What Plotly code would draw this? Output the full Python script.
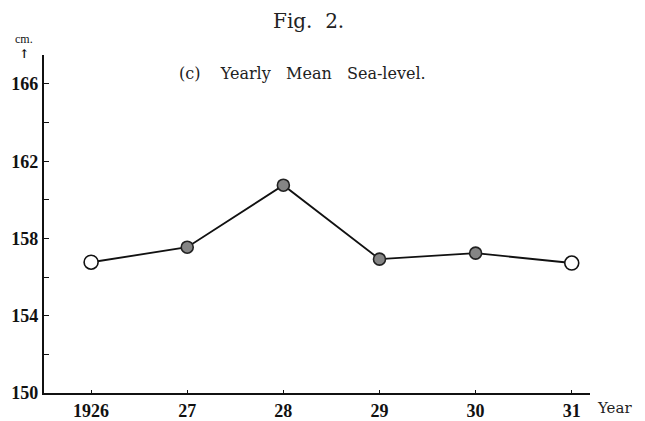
import plotly.graph_objects as go

years = [1926, 1927, 1928, 1929, 1930, 1931]
year_labels = ["1926", "27", "28", "29", "30", "31"]
sea_level = [156.77, 157.55, 160.76, 156.93, 157.24, 156.73]
filled = [False, True, True, True, True, False]
y_ticks = [150, 154, 158, 162, 166]

serif = "Liberation Serif, Times New Roman, serif"
wide_serif = "DejaVu Serif, serif"

fig = go.Figure()
fig.add_trace(go.Scatter(
    x=years, y=sea_level, mode="lines",
    line=dict(color="#111", width=1.8), showlegend=False, hoverinfo="skip"))

fx = [x for x, f in zip(years, filled) if f]
fy = [y for y, f in zip(sea_level, filled) if f]
ox = [x for x, f in zip(years, filled) if not f]
oy = [y for y, f in zip(sea_level, filled) if not f]

fig.add_trace(go.Scatter(
    x=fx, y=fy, mode="markers", showlegend=False,
    marker=dict(size=12, color="#858585", line=dict(color="#222", width=1.6))))
fig.add_trace(go.Scatter(
    x=ox, y=oy, mode="markers", showlegend=False,
    marker=dict(size=14, color="white", line=dict(color="#111", width=1.6))))

# page body adds an 8px offset, margins compensate for it
fig.update_layout(
    width=645, height=421,
    margin=dict(l=36, r=63, t=47, b=36),
    paper_bgcolor="white", plot_bgcolor="white",
    font=dict(family=serif, color="#111"),
    xaxis=dict(
        range=[1925.51, 1931.19], showgrid=False, zeroline=False,
        automargin=False,
        showline=True, linecolor="#111", linewidth=2,
        tickmode="array", tickvals=years, ticktext=year_labels,
        ticks="inside", ticklen=3, tickwidth=1, tickcolor="#111",
        tickfont=dict(family=serif, size=18, color="#111", weight="bold"),
    ),
    yaxis=dict(
        range=[150, 167.5], showgrid=False, zeroline=False,
        automargin=False,
        showline=True, linecolor="#111", linewidth=2.2,
        tickmode="array", tickvals=y_ticks,
        ticks="inside", ticklen=5, tickwidth=1.2, tickcolor="#111",
        tickfont=dict(family=serif, size=18, color="#111", weight="bold"),
        minor=dict(tickvals=[152, 156, 160, 164], ticks="inside", ticklen=5,
                   tickwidth=1.2, tickcolor="#111", showgrid=False),
    ),
    annotations=[
        dict(text="Fig.  2.", xref="paper", yref="paper", x=0.485, y=1.0,
             yshift=34, showarrow=False, xanchor="center", yanchor="middle",
             font=dict(family=wide_serif, size=20, color="#222")),
        dict(text="(c)    Yearly   Mean   Sea-level.", xref="paper", yref="paper",
             x=0.243, y=1.0, yshift=-18, showarrow=False, xanchor="left",
             yanchor="middle", font=dict(family=wide_serif, size=16, color="#222")),
        dict(text="cm.", xref="paper", yref="paper", x=0, xshift=-20, y=1.0,
             yshift=16, showarrow=False, xanchor="center", yanchor="middle",
             font=dict(family=serif, size=12, color="#111")),
        dict(text="↑", xref="paper", yref="paper", x=0, xshift=-20, y=1.0,
             yshift=1, showarrow=False, xanchor="center", yanchor="middle",
             font=dict(family=wide_serif, size=12, color="#111", weight="bold")),
        dict(text="Year", xref="paper", yref="paper", x=1.0, xshift=5, y=0,
             yshift=-15, showarrow=False, xanchor="left", yanchor="middle",
             font=dict(family=wide_serif, size=15, color="#222")),
    ],
)

fig.write_html("out.html")
